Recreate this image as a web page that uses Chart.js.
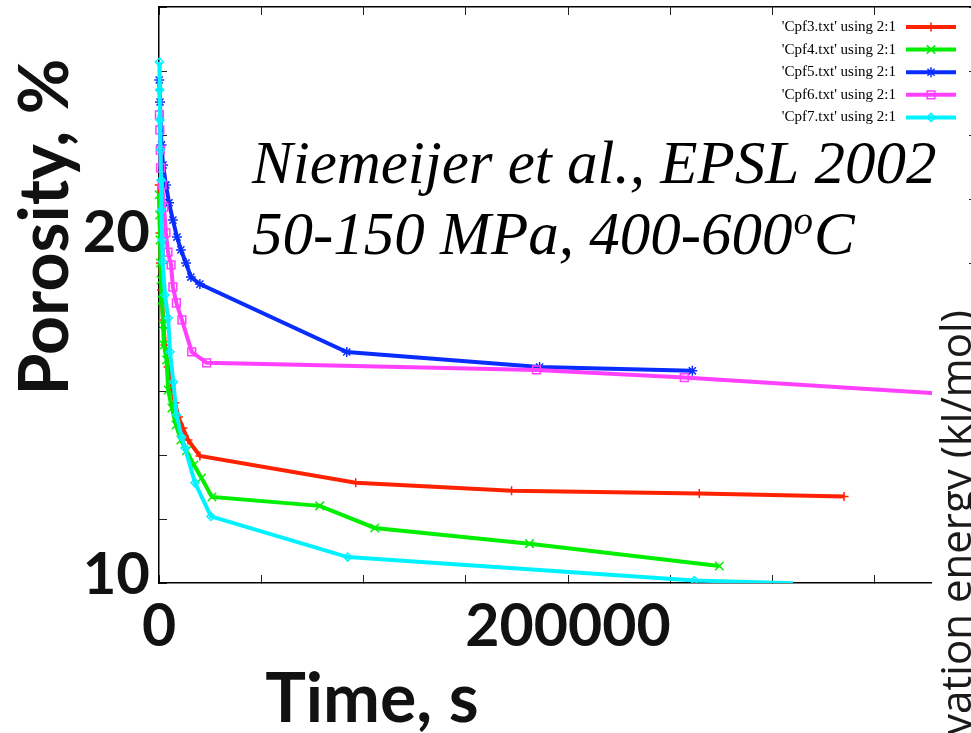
<!DOCTYPE html>
<html>
<head>
<meta charset="utf-8">
<script src="https://cdn.jsdelivr.net/npm/chart.js@4.4.1/dist/chart.umd.min.js"></script>
<style>
  html, body { margin: 0; padding: 0; background: #fff; overflow: hidden; width: 971px; height: 733px; }
  #wrap { position: absolute; left: 0; top: 0; width: 990px; height: 733px; }
</style>
</head>
<body>
<div id="wrap"><canvas id="porosity" width="990" height="733"></canvas></div>
<script>
// Porosity (%) versus time (s) for five compaction runs
const seriesNames = ["'Cpf3.txt' using 2:1", "'Cpf4.txt' using 2:1", "'Cpf5.txt' using 2:1",
                     "'Cpf6.txt' using 2:1", "'Cpf7.txt' using 2:1"];

const cpf3Time     = [100, 500, 700, 1200, 2000, 2900, 4400, 5900, 7800, 9500, 11700, 14200, 20000, 96200, 172400, 264200, 335000];
const cpf3Porosity = [22.44, 20.94, 20.0, 19.16, 18.22, 17.44, 16.75, 16.19, 15.63, 15.19, 14.84, 14.47, 13.97, 13.13, 12.88, 12.80, 12.70];

const cpf4Time     = [100, 300, 500, 700, 1000, 1500, 2000, 2400, 3700, 4500, 6300, 8300, 10700, 13400, 17100, 20800, 25900, 78600, 105500, 181200, 274000];
const cpf4Porosity = [22.13, 21.5, 20.72, 20.0, 19.47, 18.84, 18.06, 17.44, 16.97, 16.03, 15.47, 14.94, 14.47, 14.13, 13.69, 13.28, 12.69, 12.41, 11.72, 11.23, 10.53];

const cpf5Time     = [100, 500, 1200, 2000, 3400, 4900, 6800, 8800, 10700, 13200, 15600, 20000, 91800, 186100, 260800];
const cpf5Porosity = [25.72, 25.03, 23.69, 23.06, 22.44, 21.88, 21.34, 20.81, 20.41, 20.0, 19.56, 19.34, 17.22, 16.75, 16.63];

const cpf6Time     = [200, 400, 600, 730, 1500, 2400, 3400, 4400, 5900, 6800, 8500, 11200, 16000, 23300, 184600, 256900, 381400];
const cpf6Porosity = [24.63, 24.16, 23.53, 22.97, 22.44, 21.75, 20.94, 20.34, 19.94, 19.25, 18.75, 18.22, 17.22, 16.88, 16.66, 16.42, 15.92];

const cpf7Time     = [200, 350, 500, 700, 1000, 1200, 1500, 1800, 2900, 4500, 5400, 7000, 8600, 11100, 12700, 17600, 25400, 92300, 261800, 310000];
const cpf7Porosity = [26.28, 25.41, 24.47, 23.53, 22.59, 21.66, 20.72, 20.03, 19.0, 18.28, 17.22, 16.28, 15.25, 14.56, 14.22, 13.13, 12.08, 10.81, 10.08, 9.99];

// axis ranges and labelled ticks
const timeRange = [0, 400000];
const timeStep = 50000;
const timeLabels = [0, 200000];
const porosityRange = [10, 28];
const porosityStep = 2;
const porosityLabels = [10, 20];

const colors = ['#ff2200', '#00ee00', '#0a2dff', '#ff40ff', '#00f2ff'];
const markers = ['cross', 'crossRot', 'star', 'rect', 'rectRot'];
const markerSize = [4.5, 6, 5, 5.5, 4];

const pairs = (t, p) => t.map((v, i) => ({ x: v, y: p[i] }));
const seriesData = [
  pairs(cpf3Time, cpf3Porosity),
  pairs(cpf4Time, cpf4Porosity),
  pairs(cpf5Time, cpf5Porosity),
  pairs(cpf6Time, cpf6Porosity),
  pairs(cpf7Time, cpf7Porosity)
];

const datasets = seriesData.map((d, i) => ({
  label: seriesNames[i],
  data: d,
  borderColor: colors[i],
  backgroundColor: colors[i],
  borderWidth: 4,
  tension: 0,
  pointStyle: markers[i],
  pointRadius: c => (c.raw && c.raw.y < porosityRange[0]) ? 0 : markerSize[i],
  pointBorderWidth: 1.5,
  pointBorderColor: colors[i],
  pointBackgroundColor: 'rgba(0,0,0,0)',
  order: 5 - i,
  clip: { left: 12, top: 12, right: 12, bottom: 0 }
}));

const axisFont = 'Lato, "DejaVu Sans", sans-serif';

// gnuplot-style key: text right-aligned, sample line with marker to its right
const keyPlugin = {
  id: 'keyPlugin',
  afterDatasetsDraw(chart) {
    const { ctx, chartArea: a } = chart;
    ctx.save();
    chart.data.datasets.forEach((ds, i) => {
      const y = a.top + 20 + i * 22.6;
      ctx.font = '15px "Liberation Serif", "Times New Roman", serif';
      ctx.fillStyle = '#000';
      ctx.textAlign = 'right';
      ctx.textBaseline = 'middle';
      ctx.fillText(ds.label, a.right - 81, y);
      ctx.strokeStyle = ds.borderColor;
      ctx.lineWidth = ds.borderWidth;
      ctx.beginPath();
      ctx.moveTo(a.right - 71, y);
      ctx.lineTo(a.right - 21, y);
      ctx.stroke();
      ctx.lineWidth = ds.pointBorderWidth;
      ctx.fillStyle = 'rgba(0,0,0,0)';
      Chart.helpers.drawPoint(ctx, { pointStyle: ds.pointStyle, rotation: 0, radius: markerSize[i], borderWidth: ds.pointBorderWidth }, a.right - 46, y);
    });
    ctx.restore();
  }
};

// titles, annotation and the neighbouring panel on the right
const textPlugin = {
  id: 'textPlugin',
  afterDraw(chart) {
    const { ctx } = chart;
    ctx.save();
    ctx.fillStyle = '#111';
    ctx.textBaseline = 'alphabetic';

    ctx.font = 'bold 68px ' + axisFont;
    ctx.textAlign = 'center';
    ctx.fillText('Time, s', 372, 722);

    ctx.save();
    ctx.translate(68, 227);
    ctx.rotate(-Math.PI / 2);
    ctx.fillText('Porosity, %', 0, 0);
    ctx.restore();

    ctx.fillStyle = '#000';
    ctx.textAlign = 'left';
    const serif = '"Liberation Serif", "Times New Roman", serif';
    ctx.font = 'italic 61px ' + serif;
    ctx.fillText('Niemeijer et al., EPSL 2002', 252, 183);
    const main = '50-150 MPa, 400-600';
    ctx.fillText(main, 252, 254);
    let x = 252 + ctx.measureText(main).width;
    ctx.font = 'italic 39px ' + serif;
    ctx.fillText('o', x + 1, 234);
    x += ctx.measureText('o').width + 2;
    ctx.font = 'italic 61px ' + serif;
    ctx.fillText('C', x, 254);

    // neighbouring panel
    ctx.fillStyle = '#fff';
    ctx.fillRect(932, 300, 60, 433);
    ctx.save();
    ctx.fillStyle = '#1a1a1a';
    ctx.font = '42px "Open Sans", sans-serif';
    ctx.translate(971, 310);
    ctx.rotate(-Math.PI / 2);
    ctx.textAlign = 'right';
    ctx.fillText('Activation energy (kJ/mol)', 0, 0);
    ctx.restore();
    ctx.restore();
  }
};

const tickGrid = { drawOnChartArea: false, tickLength: -8, color: '#222', lineWidth: 1 };
const axisBorder = { display: true, color: '#000', width: 1.5 };

// fixed box sizes, no extra room reserved for overhanging labels
const fixBox = (w, h) => s => {
  if (w !== null) s.width = w;
  if (h !== null) s.height = h;
  s.paddingTop = 0; s.paddingBottom = 0; s.paddingLeft = 0; s.paddingRight = 0;
};

new Chart(document.getElementById('porosity'), {
  type: 'line',
  data: { datasets },
  options: {
    responsive: false,
    animation: false,
    devicePixelRatio: 1,
    layout: { autoPadding: false, padding: { left: 0, top: 7, right: 13, bottom: 0 } },
    plugins: { legend: { display: false }, tooltip: { enabled: false } },
    scales: {
      x: {
        type: 'linear', position: 'bottom',
        min: timeRange[0], max: timeRange[1],
        ticks: {
          stepSize: timeStep, autoSkip: false, maxRotation: 0, padding: 22,
          color: '#111',
          font: { family: axisFont, size: 59, weight: 'bold', lineHeight: 1 },
          callback: v => timeLabels.includes(v) ? String(v) : ''
        },
        grid: tickGrid, border: axisBorder,
        afterFit: fixBox(null, 150)
      },
      x2: {
        type: 'linear', position: 'top',
        min: timeRange[0], max: timeRange[1],
        ticks: { stepSize: timeStep, display: false, autoSkip: false },
        grid: tickGrid, border: axisBorder,
        afterFit: fixBox(null, 0)
      },
      y: {
        type: 'linear', position: 'left',
        min: porosityRange[0], max: porosityRange[1],
        ticks: {
          stepSize: porosityStep, autoSkip: false, padding: 17, labelOffset: -7.5,
          color: '#111',
          font: c => ({ family: axisFont, size: 58, weight: 'bold',
                        lineHeight: (c.tick && c.tick.value === porosityLabels[1]) ? 0.76 : 1 }),
          callback: v => v === porosityLabels[0] ? String(v)
                        : v === porosityLabels[1] ? [String(v), ''] : ''
        },
        grid: tickGrid, border: axisBorder,
        afterFit: fixBox(159, null)
      },
      y2: {
        type: 'linear', position: 'right',
        min: porosityRange[0], max: porosityRange[1],
        ticks: { stepSize: porosityStep, display: false, autoSkip: false },
        grid: tickGrid, border: axisBorder,
        afterFit: fixBox(0, null)
      }
    }
  },
  plugins: [keyPlugin, textPlugin]
});
</script>
</body>
</html>
